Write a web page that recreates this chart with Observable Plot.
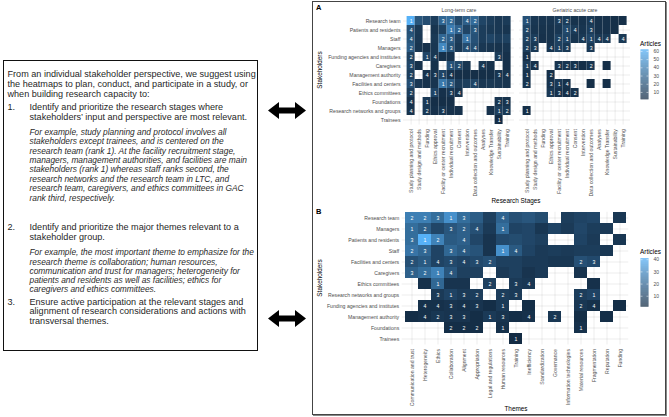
<!DOCTYPE html>
<html>
<head>
<meta charset="utf-8">
<script src="https://cdn.jsdelivr.net/npm/d3@7"></script>
<script src="https://cdn.jsdelivr.net/npm/@observablehq/plot@0.6"></script>
<style>
  html, body { margin: 0; padding: 0; background: #fff; }
  #page { position: relative; width: 669px; height: 417px; overflow: hidden; font-family: "Liberation Sans", Arial, sans-serif; color: #1a1a1a; }
  .ln { position: absolute; white-space: nowrap; font-size: 9.1px; line-height: 10px; height: 10px; color: #1f1f1f; }
  .it { font-style: italic; font-size: 8.4px; color: #2a2a2a; }
  .ttl { position: absolute; white-space: nowrap; font-size: 6.4px; line-height: 8px; color: #000; }
  .tag { position: absolute; font-weight: bold; font-size: 7.5px; line-height: 8px; color: #000; }
</style>
</head>
<body>
<div id="page">
  <div style="position:absolute;left:3px;top:60px;width:255px;height:291px;border:1px solid #111;box-sizing:border-box;"></div>
  <div class="ln" style="left:7.5px;top:69px">From an individual stakeholder perspective, we suggest using</div>
  <div class="ln" style="left:7.5px;top:79px">the heatmaps to plan, conduct, and participate in a study, or</div>
  <div class="ln" style="left:7.5px;top:89px">when building research capacity to:</div>
  <div class="ln" style="left:7.5px;top:101.7px">1.</div>
  <div class="ln" style="left:29.5px;top:101.7px">Identify and prioritize the research stages where</div>
  <div class="ln" style="left:29.5px;top:111.7px">stakeholders’ input and perspective are most relevant.</div>
  <div class="ln it" style="left:29.5px;top:126.7px">For example, study planning and protocol involves all</div>
  <div class="ln it" style="left:29.5px;top:136.1px">stakeholders except trainees, and is centered on the</div>
  <div class="ln it" style="left:29.5px;top:145.6px">research team (rank 1). At the facility recruitment stage,</div>
  <div class="ln it" style="left:29.5px;top:155px">managers, management authorities, and facilities are main</div>
  <div class="ln it" style="left:29.5px;top:164.4px">stakeholders (rank 1) whereas staff ranks second, the</div>
  <div class="ln it" style="left:29.5px;top:173.9px">research networks and the research team in LTC, and</div>
  <div class="ln it" style="left:29.5px;top:183.3px">research team, caregivers, and ethics committees in GAC</div>
  <div class="ln it" style="left:29.5px;top:192.7px">rank third, respectively.</div>
  <div class="ln" style="left:7.5px;top:222.3px">2.</div>
  <div class="ln" style="left:29.5px;top:222.3px">Identify and prioritize the major themes relevant to a</div>
  <div class="ln" style="left:29.5px;top:231.7px">stakeholder group.</div>
  <div class="ln it" style="left:29.5px;top:247.3px">For example, the most important theme to emphasize for the</div>
  <div class="ln it" style="left:29.5px;top:256.6px">research theme is collaboration; human resources,</div>
  <div class="ln it" style="left:29.5px;top:265.8px">communication and trust for managers; heterogeneity for</div>
  <div class="ln it" style="left:29.5px;top:275.1px">patients and residents as well as facilities; ethics for</div>
  <div class="ln it" style="left:29.5px;top:284.3px">caregivers and ethics committees.</div>
  <div class="ln" style="left:7.5px;top:296.7px">3.</div>
  <div class="ln" style="left:29.5px;top:296.7px">Ensure active participation at the relevant stages and</div>
  <div class="ln" style="left:29.5px;top:306.2px">alignment of research considerations and actions with</div>
  <div class="ln" style="left:29.5px;top:315.7px">transversal themes.</div>

  <svg style="position:absolute;left:268px;top:102px" width="38" height="17" viewBox="0 0 38 17">
    <polygon points="0,8.5 11,0 11,5.5 27,5.5 27,0 38,8.5 27,17 27,11.5 11,11.5 11,17" fill="#000"/>
  </svg>
  <svg style="position:absolute;left:268px;top:310px" width="38" height="17" viewBox="0 0 38 17">
    <polygon points="0,8.5 11,0 11,5.5 27,5.5 27,0 38,8.5 27,17 27,11.5 11,11.5 11,17" fill="#000"/>
  </svg>

  <div style="position:absolute;left:312px;top:1px;width:354px;height:414px;border:1px solid #444;box-shadow:1px 1px 0 #888;box-sizing:border-box;"></div>

  <div class="tag" style="left:316px;top:4px">A</div>
  <div class="tag" style="left:316px;top:208px">B</div>
  <div class="ttl" style="left:316px;top:66px;transform:rotate(-90deg);transform-origin:center;width:40px;text-align:center;margin-left:-16px;">Stakeholders</div>
  <div class="ttl" style="left:316px;top:274px;transform:rotate(-90deg);transform-origin:center;width:40px;text-align:center;margin-left:-16px;">Stakeholders</div>
  <div class="ttl" style="left:476px;top:197px;width:80px;text-align:center;">Research Stages</div>
  <div class="ttl" style="left:476px;top:405px;width:80px;text-align:center;">Themes</div>
  <div class="ttl" style="left:640px;top:40.3px">Articles</div>
  <div class="ttl" style="left:640px;top:248.3px">Articles</div>
</div>
<script>
const _ = null;

const settings = ["Long-term care", "Geriatric acute care"];
const stages = ["Study planning and protocol", "Study design and methods", "Funding", "Ethics approval",
  "Facility or center recruitment", "Individual recruitment", "Consent", "Intervention",
  "Data collection and outcomes", "Analyses", "Knowledge Transfer", "Sustainability", "Training"];
const stakeholdersA = ["Research team", "Patients and residents", "Staff", "Managers",
  "Funding agencies and institutes", "Caregivers", "Management authority", "Facilities and centers",
  "Ethics committees", "Foundations", "Research networks and groups", "Trainees"];

// Long-term care: number of articles (null = none)
const ltcArticles = [
  [62, 22, 18, 10, 29, 32, 16, 26, 32, 14, 10,  7,  9],
  [20,  8,  _,  6, 12, 40, 28, 14, 22, 10,  8,  7,  6],
  [22,  7,  _,  8, 30, 26, 10, 36, 20, 10, 14, 10, 12],
  [25,  6,  4,  7, 45, 22,  8, 18, 18,  7,  6,  5,  6],
  [12,  _, 14,  7,  4,  4,  _,  _,  _,  _,  _,  9,  4],
  [14,  4,  _,  4,  _, 20, 16,  6,  _,  7,  4,  _,  4],
  [10,  _,  5,  6, 14,  5,  3,  3,  3,  3,  3,  6,  5],
  [18,  7,  5,  6, 38, 24,  9, 11, 14,  7,  8,  7,  6],
  [10,  _,  _, 14,  4,  7,  5,  _,  _,  _,  _,  _,  _],
  [ 4,  _,  8,  3,  3,  3,  _,  _,  _,  _,  _,  6,  5],
  [ 5,  _,  8,  4,  7,  4,  4,  _,  _,  _,  4, 11,  8],
  [ _,  _,  _,  _,  _,  _,  _,  _,  _,  _,  _,  2,  _]
];
const ltcRanks = [
  [1,0,0,0,3,2,0,4,2,0,0,0,0],
  [4,0,0,0,0,1,2,0,3,0,0,0,0],
  [4,0,0,0,2,3,0,1,0,0,0,0,0],
  [2,0,0,0,1,3,0,4,4,0,0,0,0],
  [2,0,1,4,0,0,0,0,0,0,0,3,0],
  [3,0,0,0,0,1,2,0,0,4,0,0,0],
  [2,0,4,3,1,4,0,0,0,0,0,3,4],
  [3,0,0,0,1,2,0,0,4,0,0,0,0],
  [2,0,0,1,0,3,4,0,0,0,0,0,0],
  [4,0,1,0,0,0,0,0,0,0,0,2,3],
  [4,0,2,0,3,0,0,0,0,0,0,1,2],
  [0,0,0,0,0,0,0,0,0,0,0,1,0]
];

// Geriatric acute care
const gacArticles = [
  [20,  7,  6,  6,  9, 10,  5,  5,  8,  4,  4,  3,  3],
  [14,  6,  5,  5,  7, 16,  9,  6, 10,  4,  4,  3,  _],
  [12, 10,  4,  5, 12, 14,  6,  8, 14,  8,  8,  _,  8],
  [10,  8,  _,  6, 12,  8,  _,  _,  8,  _,  _,  _,  _],
  [ 4,  _,  _,  _,  _,  _,  _,  _,  _,  _,  _,  _,  _],
  [ 9,  4,  _,  _,  5,  6,  5,  3,  6,  _,  3,  _,  _],
  [ 5,  _,  _,  3,  _,  _,  _,  _,  _,  _,  _,  _,  _],
  [ 6,  _,  _,  5,  8,  4,  _,  _,  3,  _,  3,  _,  _],
  [ _,  _,  _,  8,  4,  3,  5,  _,  _,  _,  _,  _,  _],
  [ _,  _,  _,  _,  _,  _,  _,  _,  _,  _,  _,  _,  _],
  [ 3,  _,  _,  _,  _,  _,  _,  _,  _,  _,  _,  _,  _],
  [ _,  _,  _,  _,  _,  _,  _,  _,  _,  _,  _,  _,  _]
];
const gacRanks = [
  [1,0,0,0,3,2,0,0,4,0,0,0,0],
  [2,0,0,0,0,1,4,0,3,0,0,0,0],
  [2,3,0,0,2,1,0,4,1,4,4,0,4],
  [2,3,0,4,1,3,0,0,3,0,0,0,0],
  [1,0,0,0,0,0,0,0,0,0,0,0,0],
  [1,4,0,0,3,2,3,0,2,0,0,0,0],
  [1,0,0,2,0,0,0,0,0,0,0,0,0],
  [2,0,0,3,1,4,0,0,0,0,0,0,0],
  [0,0,0,1,3,4,2,0,0,0,0,0,0],
  [0,0,0,0,0,0,0,0,0,0,0,0,0],
  [1,0,0,0,0,0,0,0,0,0,0,0,0],
  [0,0,0,0,0,0,0,0,0,0,0,0,0]
];

const themes = ["Communication and trust", "Heterogeneity", "Ethics", "Collaboration", "Alignment",
  "Appropriation", "Legal and regulations", "Human resources", "Training", "Inefficiency",
  "Standardization", "Governance", "Information technologies", "Material resources",
  "Fragmentation", "Reputation", "Funding"];
const stakeholdersB = ["Research team", "Managers", "Patients and residents", "Staff",
  "Facilities and centers", "Caregivers", "Ethics committees", "Research networks and groups",
  "Funding agencies and institutes", "Management authority", "Foundations", "Trainees"];

const themeArticles = [
  [27, 27, 22, 32, 22, 17,  8, 19, 13, 15, 12,  _,  7,  9, 10,  _,  5],
  [22, 18, 10, 15, 18, 13,  6, 22,  9, 10,  5,  9,  6, 10,  7,  6,  _],
  [22, 41, 28, 16, 18, 10,  4, 11, 12, 10,  8,  _,  _,  9,  6,  _,  5],
  [24, 20,  9, 20, 16, 14,  4, 32, 16,  9,  6,  7,  6,  7,  7,  5,  _],
  [13, 16,  9, 11,  9, 11, 13,  8,  8,  6,  6,  5,  5, 13, 11,  _,  _],
  [18, 22, 28, 15,  8,  8,  _,  6,  8,  4,  6,  _,  _,  4,  _,  _,  _],
  [ _,  3, 20,  4,  4,  _,  8,  _,  6,  5,  _,  _,  _,  _,  3,  _,  _],
  [ _,  _,  6,  9,  6,  7,  _,  7,  6,  _,  _,  _,  _,  7,  9,  _,  _],
  [ _,  3,  3,  4,  3,  4,  2,  6,  _,  2,  _,  _,  _,  5,  3,  _,  2],
  [ 2,  3,  5,  4,  4,  2,  6,  4,  2,  3,  _,  5,  _,  2,  _,  2,  _],
  [ _,  _,  _,  2,  2,  2,  _,  3,  _,  _,  _,  _,  _,  3,  _,  _,  _],
  [ _,  _,  _,  _,  _,  _,  _,  _,  1,  _,  _,  _,  _,  _,  _,  _,  _]
];
const themeRanks = [
  [2,2,3,1,3,0,0,4,0,0,0,0,0,0,0,0,0],
  [1,2,0,3,2,4,0,1,0,0,0,0,0,0,0,0,0],
  [3,1,2,0,4,0,0,0,0,0,0,0,0,0,0,0,0],
  [2,3,0,3,4,0,0,1,4,0,0,0,0,0,0,0,0],
  [2,1,4,3,4,3,2,0,0,0,0,0,0,2,3,0,0],
  [3,2,1,4,0,0,0,0,0,0,0,0,0,0,0,0,0],
  [0,0,1,0,0,0,2,0,3,4,0,0,0,0,0,0,0],
  [0,0,3,1,3,2,0,2,3,0,0,0,0,2,1,0,0],
  [0,4,4,3,4,3,0,1,0,0,0,0,0,2,4,0,0],
  [0,4,2,3,3,0,1,3,0,4,0,2,0,0,0,0,0],
  [0,0,0,2,2,2,0,1,0,0,0,0,0,1,0,0,0],
  [0,0,0,0,0,0,0,0,1,0,0,0,0,0,0,0,0]
];

const legendTicksA = [10, 20, 30, 40, 50, 60];
const legendTicksB = [10, 20, 30, 40];

function tidy(articles, ranks, rows, cols, extra) {
  const out = [];
  articles.forEach((r, i) => r.forEach((v, j) => {
    if (v != null) out.push(Object.assign({who: rows[i], what: cols[j], n: v, rank: ranks[i][j] ? String(ranks[i][j]) : ""}, extra));
  }));
  return out;
}
const dataA = tidy(ltcArticles, ltcRanks, stakeholdersA, stages, {setting: settings[0]})
  .concat(tidy(gacArticles, gacRanks, stakeholdersA, stages, {setting: settings[1]}));
const dataB = tidy(themeArticles, themeRanks, stakeholdersB, themes, {});

const FONT = "'Liberation Sans', Arial, Helvetica, sans-serif";
const ramp = ["#132B43", "#56B1F7"];
const maxA = d3.max(dataA, d => d.n), maxB = d3.max(dataB, d => d.n);
const colorA = {type: "linear", domain: [1, maxA], range: ramp, interpolate: d3.interpolateLab};
const colorB = {type: "linear", domain: [1, maxB], range: ramp, interpolate: d3.interpolateLab};
const page = document.getElementById("page");
function place(node, left, top) {
  node.style.position = "absolute";
  node.style.left = left + "px";
  node.style.top = top + "px";
  page.appendChild(node);
}
const baseStyle = {fontFamily: FONT, fontSize: "5.15px", color: "#4d4d4d", background: "transparent", overflow: "visible"};

const plotA = Plot.plot({
  width: 325, height: 200,
  marginLeft: 90.4, marginRight: 6.7, marginTop: 15.45, marginBottom: 75.35,
  style: baseStyle,
  fx: {domain: settings, padding: 0.0414, label: null, axis: "top", tickSize: 0, tickPadding: 3.5},
  x: {domain: stages, padding: 0, label: null, tickSize: 0, tickPadding: 4, tickRotate: -90, grid: true},
  y: {domain: stakeholdersA, padding: 0, label: null, tickSize: 0, tickPadding: 3, grid: true},
  color: colorA,
  marks: [
    Plot.cell(dataA, {x: "what", y: "who", fx: "setting", fill: "n"}),
    Plot.text(dataA.filter(d => d.rank), {x: "what", y: "who", fx: "setting", text: "rank", fill: "white", fontSize: 5.2})
  ]
});
place(plotA, 312, 0);

const plotB = Plot.plot({
  width: 325, height: 215,
  marginLeft: 89.7, marginRight: 8.7, marginTop: 11.8, marginBottom: 70.5,
  style: baseStyle,
  x: {domain: themes, padding: 0, label: null, tickSize: 0, tickPadding: 4, tickRotate: -90, grid: true},
  y: {domain: stakeholdersB, padding: 0, label: null, tickSize: 0, tickPadding: 3, grid: true},
  color: colorB,
  marks: [
    Plot.cell(dataB, {x: "what", y: "who", fill: "n"}),
    Plot.text(dataB.filter(d => d.rank), {x: "what", y: "who", text: "rank", fill: "white", fontSize: 5.2})
  ]
});
place(plotB, 312, 200);

function colorbar(color, ticks, h, mt, mb) {
  const [lo, hi] = color.domain;
  const step = (hi - lo) / 120;
  const steps = d3.range(lo, hi, step);
  return Plot.plot({
    width: 26, height: h,
    marginLeft: 0.5, marginRight: 17.5, marginTop: mt, marginBottom: mb,
    style: Object.assign({}, baseStyle, {fontSize: "5px"}),
    y: {domain: color.domain, ticks: ticks, axis: "right", tickSize: 0, tickPadding: 4.5, label: null},
    color: color,
    marks: [
      Plot.rect(steps, {y1: d => d, y2: d => Math.min(hi, d + step * 1.02), fill: d => d + step / 2}),
      Plot.tickY(ticks, {y: d => d, stroke: "white", strokeWidth: 0.5, insetRight: 6}),
      Plot.tickY(ticks, {y: d => d, stroke: "white", strokeWidth: 0.5, insetLeft: 6})
    ]
  });
}
place(colorbar(colorA, legendTicksA, 60, 4.3, 5.7), 640, 45);
place(colorbar(colorB, legendTicksB, 57, 4, 4.3), 640, 254);
</script>
</body>
</html>
